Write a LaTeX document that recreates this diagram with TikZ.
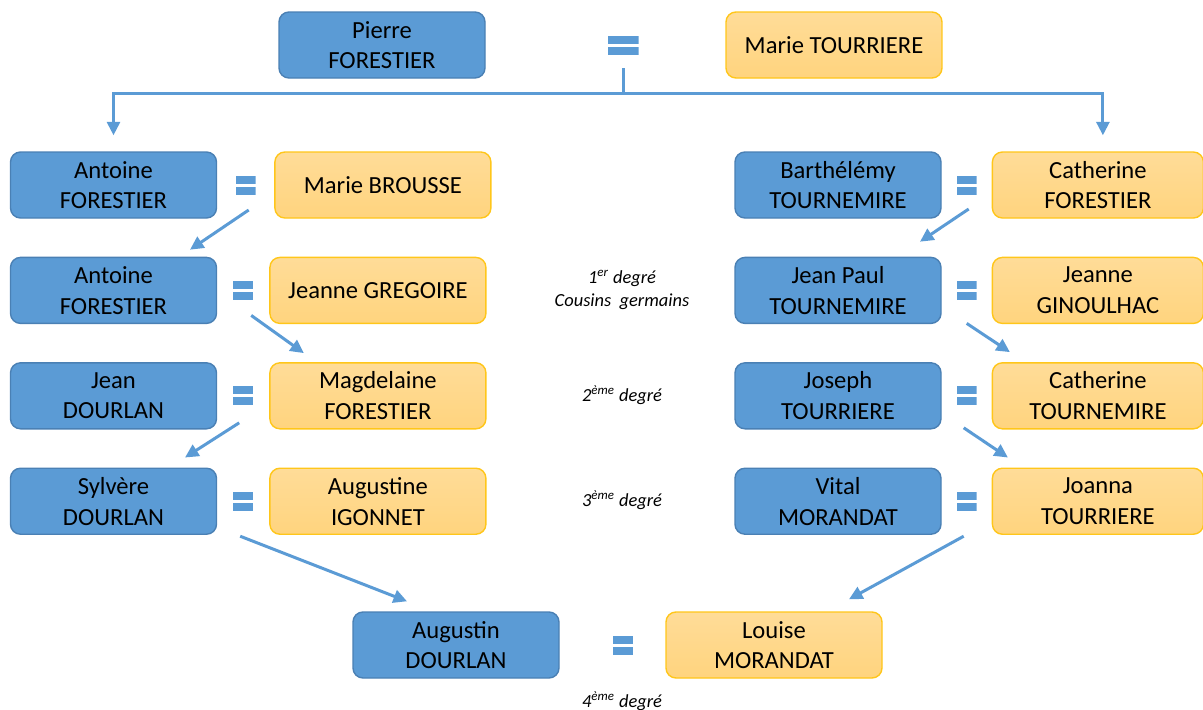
\documentclass[tikz,border=0pt]{standalone}
\usepackage{fontspec}
\setmainfont{Carlito}
\usepackage{tikz}
\usetikzlibrary{arrows.meta, positioning, calc}
\definecolor{bleu}{HTML}{5B9BD5}
\definecolor{bleufonce}{HTML}{4A80B4}
\definecolor{orclair}{HTML}{FFDC98}
\definecolor{orfonce}{HTML}{FFD47E}
\definecolor{orbord}{HTML}{FFC61A}

\begin{document}
\begin{tikzpicture}[
  node distance=0.76cm and 1.04cm,
  >={Triangle[length=0.27cm,width=0.26cm]},
  font=\fontsize{14}{17.5}\selectfont,
  homme/.style={draw=bleufonce, line width=0.8pt, fill=bleu, rounded corners=0.2cm, align=center, minimum width=4.12cm, minimum height=1.32cm, inner sep=2pt},
  femme/.style={draw=orbord, line width=0.8pt, top color=orclair, bottom color=orfonce, rounded corners=0.2cm, align=center, minimum width=4.32cm, minimum height=1.32cm, inner sep=2pt},
  egal/.style={minimum width=0.4cm, minimum height=0.38cm, inner sep=0pt, path picture={
    \fill[bleu] (path picture bounding box.north west) rectangle ([yshift=-0.16cm]path picture bounding box.north east);
    \fill[bleu] (path picture bounding box.south west) rectangle ([yshift=0.16cm]path picture bounding box.south east);}},
  fleche/.style={->, draw=bleu, line width=0.06cm},
  degre/.style={font=\itshape\fontsize{10.5}{13.5}\selectfont, align=center}
]
\useasboundingbox (0,0) rectangle (24.06,-14.2);

% TOP COUPLE
\node[homme] (pierre) at (7.64,-0.90) {Pierre\\FORESTIER};
\node[femme] (marieT) at (16.68,-0.90) {Marie TOURRIERE};
\node[egal, minimum width=0.62cm] (eqTop) at (12.46,-0.90) {};

% LEFT BRANCH
\node[homme] (antA) at (2.27,-3.70) {Antoine\\FORESTIER};
\node[femme, right=1.14cm of antA] (marieB) {Marie BROUSSE};
\node[homme, below=of antA] (antB) {Antoine\\FORESTIER};
\node[femme, right=of antB] (jeanneG) {Jeanne GREGOIRE};
\node[homme, below=of antB] (jean) {Jean\\DOURLAN};
\node[femme, right=of jean] (magd) {Magdelaine\\FORESTIER};
\node[homme, below=of jean] (sylvere) {Sylvère\\DOURLAN};
\node[femme, right=of sylvere] (augustine) {Augustine\\IGONNET};

\node[egal] (eqA) at ($(antA.east)!0.5!(marieB.west)$) {};
\node[egal] (eqB) at ($(antB.east)!0.5!(jeanneG.west)$) {};
\node[egal] (eqC) at ($(jean.east)!0.5!(magd.west)$) {};
\node[egal] (eqD) at ($(sylvere.east)!0.5!(augustine.west)$) {};

% RIGHT BRANCH
\node[homme] (barth) at (16.76,-3.70) {Barthélémy\\TOURNEMIRE};
\node[femme, right=1.0cm of barth, minimum width=4.22cm] (cathF) {Catherine\\FORESTIER};
\node[homme, below=of barth] (jeanpaul) {Jean Paul\\TOURNEMIRE};
\node[femme, right=1.0cm of jeanpaul, minimum width=4.22cm] (jeanneGi) {Jeanne\\GINOULHAC};
\node[homme, below=of jeanpaul] (joseph) {Joseph\\TOURRIERE};
\node[femme, right=1.0cm of joseph, minimum width=4.22cm] (cathT) {Catherine\\TOURNEMIRE};
\node[homme, below=of joseph] (vital) {Vital\\MORANDAT};
\node[femme, right=1.0cm of vital, minimum width=4.22cm] (joanna) {Joanna\\TOURRIERE};

\node[egal] (eqE) at ($(barth.east)!0.5!(cathF.west)$) {};
\node[egal] (eqF) at ($(jeanpaul.east)!0.5!(jeanneGi.west)$) {};
\node[egal] (eqG) at ($(joseph.east)!0.5!(cathT.west)$) {};
\node[egal] (eqH) at ($(vital.east)!0.5!(joanna.west)$) {};

% BOTTOM COUPLE
\node[homme] (augustin) at (9.12,-12.90) {Augustin\\DOURLAN};
\node[femme] (louise) at (15.48,-12.90) {Louise\\MORANDAT};
\node[egal] (eqBot) at (12.46,-12.90) {};

% DEGREES
\node[degre] (deg1) at (12.44,-5.80) {1\textsuperscript{er} degré\\Cousins\ \ germains};
\node[degre] (deg2) at (12.44,-7.90) {2\textsuperscript{ème} degré};
\node[degre] (deg3) at (12.44,-10.00) {3\textsuperscript{ème} degré};
\node[degre] (deg4) at (12.44,-14.02) {4\textsuperscript{ème} degré};

% LINKS
\draw[draw=bleu, line width=0.06cm] ([yshift=-0.27cm]eqTop.south) -- ++(0,-0.5) coordinate (fork);
\draw[fleche] (fork) -| ([yshift=0.32cm]antA.north);
\draw[fleche] (fork) -| ([xshift=0.1cm,yshift=0.32cm]cathF.north);

\draw[fleche] ([shift={(0.06,-0.50)}]eqA.center) -- ([shift={(1.53,0.14)}]antB.north);
\draw[fleche] ([shift={(0.16,-0.50)}]eqB.center) -- ([shift={(-1.48,0.18)}]magd.north);
\draw[fleche] ([shift={(-0.08,-0.54)}]eqC.center) -- ([shift={(1.43,0.20)}]sylvere.north);
\draw[fleche] ([shift={(-0.06,-0.70)}]eqD.center) -- ([shift={(-0.98,0.20)}]augustin.north);

\draw[fleche] ([shift={(0.04,-0.48)}]eqE.center) -- ([shift={(1.64,0.30)}]jeanpaul.north);
\draw[fleche] ([shift={(0,-0.66)}]eqF.center) -- ([shift={(-1.76,0.20)}]cathT.north);
\draw[fleche] ([shift={(-0.06,-0.64)}]eqG.center) -- ([shift={(-1.80,0.20)}]joanna.north);
\draw[fleche] ([shift={(-0.06,-0.70)}]eqH.center) -- ([shift={(1.50,0.24)}]louise.north);

\end{tikzpicture}
\end{document}
